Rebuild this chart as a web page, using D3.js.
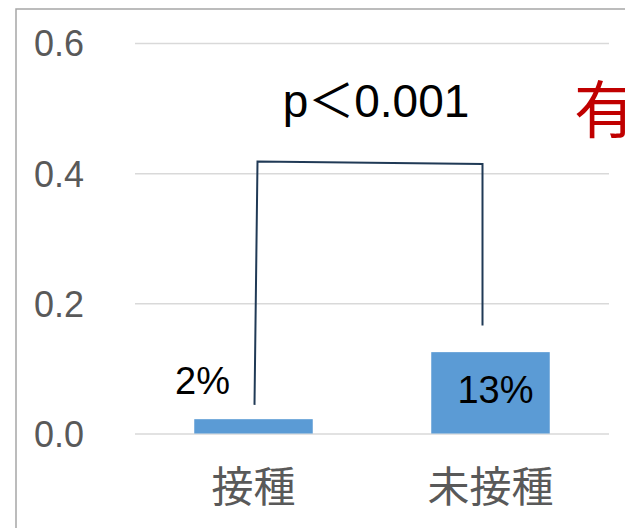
<!DOCTYPE html>
<html>
<head>
<meta charset="utf-8">
<script src="https://cdn.jsdelivr.net/npm/d3@7"></script>
<style>
  html, body { margin: 0; padding: 0; background: #fff; overflow: hidden; }
  svg { display: block; font-family: "Liberation Sans", Arial, "Noto Sans CJK JP", sans-serif; }
</style>
</head>
<body>
<svg id="chart" width="625" height="528"></svg>
<script>
// data
var categories = ["接種", "未接種"];
var rates = [0.022, 0.125];
var rateLabels = ["2%", "13%"];
var yTicks = [0, 0.2, 0.4, 0.6];
var pLabel = "p＜0.001";
var noteLabel = "有";
// bracket heights (axis units): left foot, left top, right top, right foot
var bracketLevels = [0.044, 0.418, 0.414, 0.166];

var svg = d3.select("#chart"),
    margin = {top: 43, right: 16, bottom: 94.5, left: 135},
    width = +svg.attr("width"),
    height = +svg.attr("height"),
    domainwidth = width - margin.left - margin.right,
    domainheight = height - margin.top - margin.bottom;

// outer chart frame (runs off the right / bottom edges)
svg.append("rect")
    .attr("x", 16).attr("y", 9)
    .attr("width", 700).attr("height", 600)
    .attr("fill", "none")
    .attr("stroke", "#a6a6a6")
    .attr("stroke-width", 1.5);

var x = d3.scaleBand()
    .domain(categories)
    .range([0, domainwidth])
    .paddingInner(0.5)
    .paddingOuter(0.25);

var y = d3.scaleLinear()
    .domain([0, 0.6])
    .range([domainheight, 0]);

var g = svg.append("g")
    .attr("transform", "translate(" + margin.left + "," + margin.top + ")");

// gridlines
g.append("g")
    .attr("class", "grid")
    .call(d3.axisLeft(y).tickValues(yTicks).tickSize(-domainwidth).tickFormat(""))
    .call(function(s) {
      s.select(".domain").remove();
      s.selectAll("line").attr("stroke", "#d9d9d9").attr("stroke-width", 1.5);
    });

// y tick labels
g.append("g")
    .call(d3.axisLeft(y).tickValues(yTicks).tickSize(0).tickPadding(51).tickFormat(d3.format(".1f")))
    .call(function(s) {
      s.select(".domain").remove();
      s.selectAll("text")
          .attr("fill", "#595959")
          .attr("font-size", "36px")
          .attr("dy", "0.36em")
          .style("font-family", "'Liberation Sans', Arial, sans-serif");
    });

// x category labels
g.append("g")
    .attr("transform", "translate(0," + domainheight + ")")
    .call(d3.axisBottom(x).tickSize(0).tickPadding(0))
    .call(function(s) {
      s.select(".domain").remove();
      s.selectAll("text")
          .attr("fill", "#595959")
          .attr("font-size", "42px")
          .attr("dy", "68px")
          .style("font-family", "'Noto Sans CJK JP', sans-serif");
    });

// bars
g.selectAll("rect.bar")
    .data(rates)
  .enter().append("rect")
    .attr("class", "bar")
    .attr("x", function(d, i) { return x(categories[i]); })
    .attr("y", function(d) { return y(d); })
    .attr("width", x.bandwidth())
    .attr("height", function(d) { return domainheight - y(d); })
    .attr("fill", "#5b9bd5");

// value labels
var labelPos = [{dx: -51, yy: 394.3}, {dx: 5, yy: 402.7}];
g.selectAll("text.val")
    .data(rateLabels)
  .enter().append("text")
    .attr("class", "val")
    .attr("x", function(d, i) { return x(categories[i]) + x.bandwidth() / 2 + labelPos[i].dx; })
    .attr("y", function(d, i) { return labelPos[i].yy - margin.top; })
    .attr("text-anchor", "middle")
    .attr("font-size", "38px")
    .attr("fill", "#000")
    .text(function(d) { return d; });

// significance bracket
var cx0 = x(categories[0]) + x.bandwidth() / 2,
    cx1 = x(categories[1]) + x.bandwidth() / 2;
var bracket = [
  [cx0 + 1, y(bracketLevels[0])],
  [cx0 + 4, y(bracketLevels[1])],
  [cx1 - 8, y(bracketLevels[2])],
  [cx1 - 8, y(bracketLevels[3])]
];
g.append("path")
    .attr("d", d3.line()(bracket))
    .attr("fill", "none")
    .attr("stroke", "#203a56")
    .attr("stroke-width", 2);

// p value
g.append("text")
    .attr("x", (cx0 + cx1) / 2 + 4)
    .attr("y", 116.7 - margin.top)
    .attr("text-anchor", "middle")
    .attr("font-size", "46px")
    .attr("fill", "#000")
    .text(pLabel);

// red note (cut off by the edge)
svg.append("text")
    .attr("x", 574)
    .attr("y", 133)
    .attr("font-size", "62px")
    .attr("fill", "#c00000")
    .style("font-family", "'Noto Sans CJK JP', sans-serif")
    .text(noteLabel);
</script>
</body>
</html>
